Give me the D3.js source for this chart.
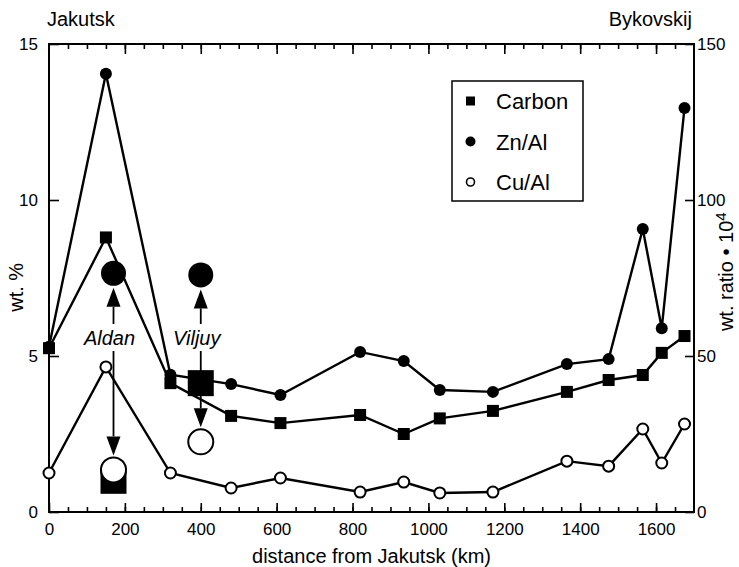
<!DOCTYPE html>
<html lang="en">
<head>
<meta charset="UTF-8">
<title>Jakutsk - Bykovskij</title>
<style>
  body { margin: 0; padding: 0; background: #fff; }
  svg { display: block; font-family: "Liberation Sans", Arial, Helvetica, sans-serif; }
  .axis text { font-size: 17px; fill: #000; }
  .axis line { stroke: #000; stroke-width: 1.6; }
  .axis path { display: none; }
</style>
</head>
<body>
<div id="chart"></div>
<script src="https://d3js.org/d3.v7.min.js"></script>
<script>
// distance from Jakutsk (km)
const distances = [0, 150, 320, 480, 610, 820, 935, 1030, 1170, 1365, 1475, 1565, 1615, 1675];
// carbon, wt.% (left axis)
const carbon = [5.25, 8.8, 4.13, 3.08, 2.85, 3.11, 2.5, 3.0, 3.24, 3.85, 4.23, 4.39, 5.1, 5.64];
// Zn/Al, wt. ratio * 10^4 (right axis)
const znAl = [53, 140.5, 44, 41, 37.5, 51.3, 48.4, 39.1, 38.5, 47.4, 49, 90.7, 58.9, 129.5];
// Cu/Al, wt. ratio * 10^4 (right axis)
const cuAl = [12.5, 46.5, 12.5, 7.7, 10.9, 6.4, 9.6, 6.1, 6.4, 16.3, 14.7, 26.6, 15.7, 28.2];

// tributaries (large symbols)
const rivers = ["Aldan", "Viljuy"];
const riverKm = [170, 400];
const riverCarbon = [1.0, 4.13];
const riverZn = [76.5, 76];
const riverCu = [13.5, 22.5];

const xTicks = [0, 200, 400, 600, 800, 1000, 1200, 1400, 1600];
const leftTicks = [0, 5, 10, 15];
const rightTicks = [0, 50, 100, 150];

const width = 739, height = 567;
const margin = {top: 44, right: 45, bottom: 55, left: 49};

const svg = d3.select("#chart").append("svg")
    .attr("width", width)
    .attr("height", height);

const x = d3.scaleLinear().domain([0, 1700]).range([margin.left, width - margin.right]);
const yL = d3.scaleLinear().domain([0, 15]).range([height - margin.bottom, margin.top]);
const yR = d3.scaleLinear().domain([0, 150]).range([height - margin.bottom, margin.top]);

const x0 = x.range()[0], x1 = x.range()[1];
const yB = yL.range()[0], yT = yL.range()[1];

// minor / major ticks on bottom and top
svg.append("g").attr("class", "axis")
    .attr("transform", `translate(0,${yB})`)
    .call(d3.axisBottom(x).tickValues(d3.range(50, 1700, 50)).tickSize(-5).tickFormat(""));
svg.append("g").attr("class", "axis")
    .attr("transform", `translate(0,${yB})`)
    .call(d3.axisBottom(x).tickValues(xTicks).tickSize(-9).tickPadding(11).tickFormat(d3.format("d")));
svg.append("g").attr("class", "axis")
    .attr("transform", `translate(0,${yT})`)
    .call(d3.axisTop(x).tickValues(d3.range(50, 1700, 50)).tickSize(-5).tickFormat(""));
svg.append("g").attr("class", "axis")
    .attr("transform", `translate(0,${yT})`)
    .call(d3.axisTop(x).tickValues(xTicks.slice(1)).tickSize(-10).tickFormat(""));

svg.append("g").attr("class", "axis")
    .attr("transform", `translate(${x0},0)`)
    .call(d3.axisLeft(yL).tickValues(leftTicks).tickSize(-10).tickPadding(11));
svg.append("g").attr("class", "axis")
    .attr("transform", `translate(${x1},0)`)
    .call(d3.axisRight(yR).tickValues(rightTicks).tickSize(-9).tickPadding(3));

// frame
svg.append("rect")
    .attr("x", x0).attr("y", yT)
    .attr("width", x1 - x0).attr("height", yB - yT)
    .attr("fill", "none").attr("stroke", "#000").attr("stroke-width", 2);

// axis titles
svg.append("text")
    .attr("x", (x0 + x1) / 2).attr("y", 563)
    .attr("text-anchor", "middle").attr("font-size", 20)
    .text("distance from Jakutsk (km)");

svg.append("text")
    .attr("transform", `translate(23,${yL(7.2)}) rotate(-90)`)
    .attr("text-anchor", "middle").attr("font-size", 20)
    .text("wt. %");

const rt = svg.append("text")
    .attr("transform", `translate(733,${yR(77)}) rotate(-90)`)
    .attr("text-anchor", "middle").attr("font-size", 20);
rt.append("tspan").text("wt. ratio \u2022 10");
rt.append("tspan").attr("dy", -7).attr("font-size", 15).text("4");

svg.append("text").attr("x", 47).attr("y", 26).attr("font-size", 20).text("Jakutsk");
svg.append("text").attr("x", 692).attr("y", 26).attr("text-anchor", "end").attr("font-size", 20).text("Bykovskij");

// series lines
const pts = vals => distances.map((d, i) => [d, vals[i]]);
const lineL = d3.line().x(d => x(d[0])).y(d => yL(d[1]));
const lineR = d3.line().x(d => x(d[0])).y(d => yR(d[1]));

svg.append("path").attr("d", lineR(pts(cuAl)))
    .attr("fill", "none").attr("stroke", "#000").attr("stroke-width", 2.4);
svg.append("path").attr("d", lineL(pts(carbon)))
    .attr("fill", "none").attr("stroke", "#000").attr("stroke-width", 2.4);
svg.append("path").attr("d", lineR(pts(znAl)))
    .attr("fill", "none").attr("stroke", "#000").attr("stroke-width", 2.4);

// markers
svg.append("g").selectAll("circle")
    .data(pts(znAl)).join("circle")
    .attr("cx", d => x(d[0])).attr("cy", d => yR(d[1])).attr("r", 6)
    .attr("fill", "#000");
svg.append("g").selectAll("rect")
    .data(pts(carbon)).join("rect")
    .attr("x", d => x(d[0]) - 6).attr("y", d => yL(d[1]) - 6)
    .attr("width", 12).attr("height", 12)
    .attr("fill", "#000");
svg.append("g").selectAll("circle")
    .data(pts(cuAl)).join("circle")
    .attr("cx", d => x(d[0])).attr("cy", d => yR(d[1])).attr("r", 5.5)
    .attr("fill", "#fff").attr("stroke", "#000").attr("stroke-width", 2);

// tributary symbols with arrows
const R = 12.5, S = 26;
function arrow(xp, yFrom, yTo) {
    const dir = yTo > yFrom ? 1 : -1;
    const base = yTo - dir * 19;
    svg.append("line")
        .attr("x1", xp).attr("x2", xp).attr("y1", yFrom).attr("y2", base)
        .attr("stroke", "#000").attr("stroke-width", 1.8);
    svg.append("path")
        .attr("d", `M${xp - 7},${base}L${xp + 7},${base}L${xp},${yTo}Z`)
        .attr("fill", "#000");
}

rivers.forEach((name, i) => {
    const xp = x(riverKm[i]);
    const labelY = 345;
    const cz = yR(riverZn[i]), cc = yR(riverCu[i]), sq = yL(riverCarbon[i]);

    svg.append("text")
        .attr("x", xp - 4).attr("y", labelY)
        .attr("text-anchor", "middle").attr("font-size", 20).attr("font-style", "italic")
        .text(name);

    svg.append("rect")
        .attr("x", xp - S / 2).attr("y", sq - S / 2).attr("width", S).attr("height", S)
        .attr("fill", "#000");
    svg.append("circle").attr("cx", xp).attr("cy", cz).attr("r", R).attr("fill", "#000");
    svg.append("circle").attr("cx", xp).attr("cy", cc).attr("r", R)
        .attr("fill", "#fff").attr("stroke", "#000").attr("stroke-width", 2);

    arrow(xp, labelY - 21, cz + R + 2);
    if (sq > labelY) {
        // carbon below label: arrow runs to the Cu/Al circle
        arrow(xp, labelY + 6, cc - R - 2);
    } else {
        svg.append("line")
            .attr("x1", xp).attr("x2", xp).attr("y1", labelY + 6).attr("y2", sq - S / 2)
            .attr("stroke", "#000").attr("stroke-width", 1.8);
        arrow(xp, sq + S / 2, cc - R - 2);
    }
});

// legend
const legendItems = ["Carbon", "Zn/Al", "Cu/Al"];
const legend = svg.append("g").attr("transform", "translate(452,81)");
legend.append("rect").attr("width", 131).attr("height", 120)
    .attr("fill", "#fff").attr("stroke", "#000").attr("stroke-width", 1.5);
legendItems.forEach((name, i) => {
    const cy = 20 + i * 40.5;
    if (i === 0) {
        legend.append("rect").attr("x", 14).attr("y", cy - 4.5).attr("width", 9).attr("height", 9).attr("fill", "#000");
    } else if (i === 1) {
        legend.append("circle").attr("cx", 18.5).attr("cy", cy).attr("r", 5).attr("fill", "#000");
    } else {
        legend.append("circle").attr("cx", 18.5).attr("cy", cy).attr("r", 4)
            .attr("fill", "#fff").attr("stroke", "#000").attr("stroke-width", 1.6);
    }
    legend.append("text").attr("x", 44).attr("y", cy + 8).attr("font-size", 22).text(name);
});
</script>
</body>
</html>
